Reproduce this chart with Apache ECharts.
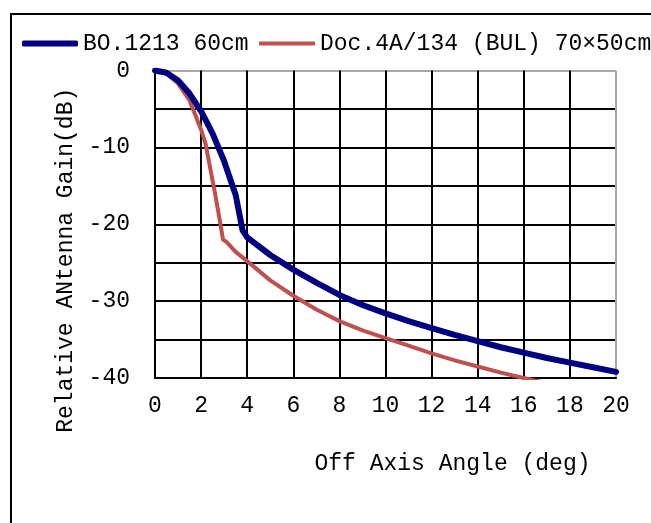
<!DOCTYPE html>
<html>
<head>
<meta charset="utf-8">
<script src="https://cdn.jsdelivr.net/npm/echarts@6/dist/echarts.min.js"></script>
<style>
  html, body { margin: 0; padding: 0; background: #fff; }
  #chart { width: 651px; height: 523px; }
</style>
</head>
<body>
<div id="chart"></div>
<script>
// Antenna pattern curves
const seriesNames = ['BO.1213 60cm', 'Doc.4A/134 (BUL) 70×50cm'];

const blueAngle = [0, 0.5, 1, 1.5, 2, 2.5, 3, 3.5, 3.8, 4, 5, 6, 7, 8, 9, 10, 11, 12, 13, 14, 15, 16, 17, 18, 19, 20];
const blueGain = [0, -0.3, -1.3, -3.0, -5.3, -8.2, -11.8, -16.2, -20.8, -21.7, -24.0, -25.9, -27.6, -29.2, -30.5, -31.6, -32.6, -33.5, -34.4, -35.2, -36.0, -36.7, -37.4, -38.0, -38.6, -39.2];

const redAngle = [0, 0.5, 1, 1.5, 2, 2.2, 2.4, 2.6, 2.8, 2.95, 3.1, 3.5, 4, 5, 6, 7, 8, 9, 10, 11, 12, 13, 14, 15, 16, 17];
const redGain = [0, -0.4, -1.7, -3.9, -7.7, -9.6, -12.8, -15.9, -19.3, -22.0, -22.3, -23.6, -24.8, -27.3, -29.3, -31.1, -32.6, -33.8, -34.8, -35.8, -36.8, -37.7, -38.5, -39.3, -40.0, -40.7];

const FONT = "'Liberation Mono', monospace";
const FS = 23;
const BLUE = '#000080';
const RED = '#c0504d';

const chart = echarts.init(document.getElementById('chart'));

// one legend per series so each key line keeps its own thickness
function legendFor(name, left, thick, color) {
    return {
        left: left,
        top: 27,
        itemWidth: 56,
        itemHeight: thick,
        icon: 'roundRect',
        itemStyle: { color: color },
        textStyle: { fontFamily: FONT, fontSize: FS, color: '#000' },
        data: [name]
    };
}

const option = {
    backgroundColor: '#fff',
    animation: false,
    graphic: [
        {
            type: 'rect',
            silent: true,
            z: -1,
            shape: { x: 11, y: 14, width: 700, height: 600 },
            style: { fill: 'none', stroke: '#000', lineWidth: 2 }
        }
    ],
    legend: [
        legendFor(seriesNames[0], 17, 6, BLUE),
        legendFor(seriesNames[1], 254, 4, RED)
    ],
    grid: {
        left: 155,
        top: 70.5,
        right: 35,
        bottom: 145
    },
    xAxis: {
        type: 'value',
        min: 0,
        max: 20,
        interval: 2,
        name: 'Off Axis Angle (deg)',
        nameLocation: 'middle',
        nameGap: 74,
        nameTextStyle: {
            fontFamily: FONT, fontSize: FS, color: '#000',
            padding: [0, 0, 0, 134]
        },
        axisLine: { onZero: false, lineStyle: { color: '#000', width: 2 } },
        axisTick: { show: false },
        axisLabel: { fontFamily: FONT, fontSize: FS, color: '#000', margin: 16 },
        splitLine: {
            show: true,
            lineStyle: {
                width: 2,
                color: ['#000', '#000', '#000', '#000', '#000', '#000', '#000', '#000', '#000', '#000', '#a8a8a8']
            }
        }
    },
    yAxis: {
        type: 'value',
        min: -40,
        max: 0,
        interval: 10,
        name: 'Relative ANtenna Gain(dB)',
        nameLocation: 'middle',
        nameGap: 77,
        nameTextStyle: {
            fontFamily: FONT, fontSize: FS, color: '#000',
            padding: [0, 72, 0, 0]
        },
        axisLine: { onZero: false, lineStyle: { color: '#000', width: 2 } },
        axisTick: { show: false },
        minorTick: { show: false, splitNumber: 2 },
        minorSplitLine: { show: true, lineStyle: { color: '#000', width: 2 } },
        axisLabel: { fontFamily: FONT, fontSize: FS, color: '#000', margin: 25 },
        splitLine: {
            show: true,
            lineStyle: {
                width: 2,
                color: ['#000', '#000', '#000', '#000', '#a8a8a8']
            }
        }
    },
    series: [
        {
            name: seriesNames[0],
            type: 'line',
            symbol: 'none',
            z: 3,
            color: BLUE,
            lineStyle: { color: BLUE, width: 6, cap: 'round', join: 'round' },
            data: blueAngle.map((a, i) => [a, blueGain[i]])
        },
        {
            name: seriesNames[1],
            type: 'line',
            symbol: 'none',
            z: 2,
            color: RED,
            lineStyle: { color: RED, width: 4, cap: 'round', join: 'round' },
            data: redAngle.map((a, i) => [a, redGain[i]])
        }
    ]
};

chart.setOption(option);
</script>
</body>
</html>
